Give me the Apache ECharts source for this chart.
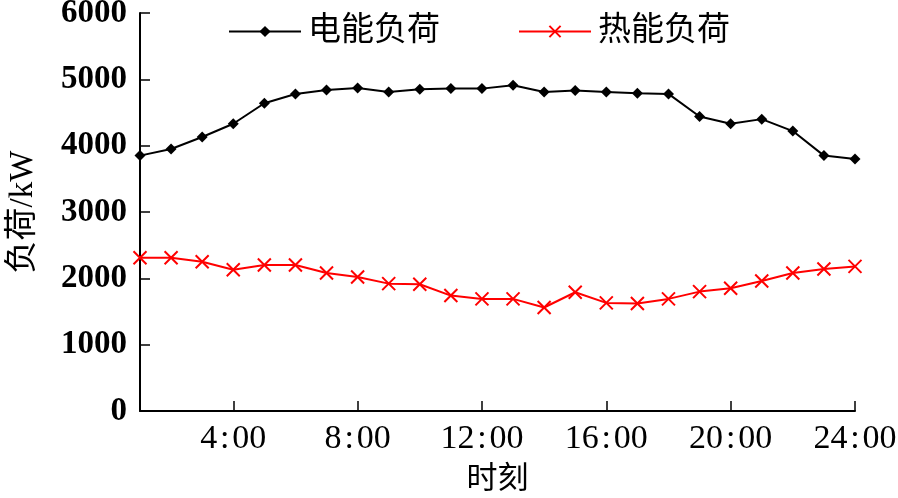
<!DOCTYPE html>
<html>
<head>
<meta charset="utf-8">
<script src="https://cdn.jsdelivr.net/npm/echarts@6/dist/echarts.min.js"></script>
<style>html,body{margin:0;padding:0;background:#fff;}#c{width:898px;height:498px;}</style>
</head>
<body>
<div id="c"></div>
<script>
const hours = ['1:00','2:00','3:00','4:00','5:00','6:00','7:00','8:00','9:00','10:00','11:00','12:00','13:00','14:00','15:00','16:00','17:00','18:00','19:00','20:00','21:00','22:00','23:00','24:00'];
const electricLoad = [3850,3950,4130,4330,4640,4780,4840,4870,4810,4850,4860,4860,4910,4810,4830,4810,4790,4780,4440,4330,4400,4220,3850,3800];
const heatLoad = [2310,2310,2250,2130,2200,2200,2080,2020,1920,1910,1740,1690,1690,1560,1790,1630,1620,1690,1800,1850,1960,2080,2140,2180];
const seriesNames = ['电能负荷','热能负荷'];
const yMin = 0, yMax = 6000, yStep = 1000;

const chart = echarts.init(document.getElementById('c'), null, {renderer:'canvas'});
const serif = "'Liberation Serif','Times New Roman','Noto Sans CJK SC',serif";
const crossPath = 'path://M0,0L10,10M10,0L0,10';
chart.setOption({
  animation:false,
  backgroundColor:'#fff',
  grid:{left:140,right:43,top:13,bottom:87,containLabel:false,outerBoundsMode:'none'},
  legend:{
    left:223, top:10,
    itemWidth:72, itemHeight:14, itemGap:78,
    textStyle:{fontFamily:serif,fontSize:33,color:'#000',padding:[0,0,0,2]},
    data:[
      {name:seriesNames[0]},
      {name:seriesNames[1]}
    ]
  },
  xAxis:{
    type:'category',
    data:hours,
    boundaryGap:false,
    name:'时刻',
    nameLocation:'middle',
    nameGap:53,
    nameTextStyle:{fontFamily:serif,fontSize:31,color:'#000'},
    axisLine:{lineStyle:{color:'#000',width:2}},
    axisTick:{inside:true,length:10,lineStyle:{color:'#000',width:1.5},interval:function(i){return i%4===3;}},
    axisLabel:{interval:function(i){return i%4===3;},fontFamily:serif,fontSize:34,color:'#000',margin:11,
      formatter:function(v){return v.replace(':','\u200A:\u200A');}},
    splitLine:{show:false}
  },
  yAxis:{
    type:'value',
    min:yMin,max:yMax,interval:yStep,
    name:'负荷/kW',
    nameLocation:'middle',
    nameGap:100,
    nameRotate:90,
    nameTextStyle:{fontFamily:serif,fontSize:33,color:'#000'},
    axisLine:{show:true,lineStyle:{color:'#000',width:2}},
    axisTick:{show:true,inside:true,length:10,lineStyle:{color:'#000',width:1.5}},
    axisLabel:{fontFamily:serif,fontSize:33,fontWeight:'bold',color:'#000',margin:13,formatter:function(v){return String(v);}},
    splitLine:{show:false}
  },
  series:[
    {
      name:seriesNames[0],type:'line',data:electricLoad,
      symbol:'diamond',symbolSize:11,showAllSymbol:true,
      lineStyle:{color:'#000',width:2},
      itemStyle:{color:'#000'}
    },
    {
      name:seriesNames[1],type:'line',data:heatLoad,
      symbol:crossPath,symbolSize:13,showAllSymbol:true,
      lineStyle:{color:'#ff0000',width:2},
      itemStyle:{color:'rgba(0,0,0,0)',borderColor:'#ff0000',borderWidth:2}
    }
  ]
});
</script>
</body>
</html>
